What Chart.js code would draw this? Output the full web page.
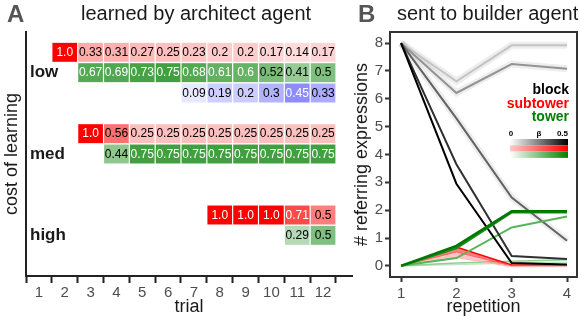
<!DOCTYPE html>
<html>
<head>
<meta charset="utf-8">
<script src="https://cdn.jsdelivr.net/npm/chart.js@4.4.1/dist/chart.umd.min.js"></script>
<style>
  body { margin: 0; background: #fff; }
  #wrap { position: relative; width: 581px; height: 319px; overflow: hidden; }
  canvas { position: absolute; top: 0; }
  #chartA { left: 0; }
  #chartB { left: 340px; }
</style>
</head>
<body>
<div id="wrap">
  <canvas id="chartA" width="360" height="319"></canvas>
  <canvas id="chartB" width="241" height="319"></canvas>
</div>
<script>
//=========== Panel A data ===========//
var trials = [1, 2, 3, 4, 5, 6, 7, 8, 9, 10, 11, 12];
var costLevels = ['high', 'med', 'low'];
// one value per trial, null = nothing learned yet
var lowSubtower  = [null, 1.0, 0.33, 0.31, 0.27, 0.25, 0.23, 0.2, 0.2, 0.17, 0.14, 0.17];
var lowTower     = [null, null, 0.67, 0.69, 0.73, 0.75, 0.68, 0.61, 0.6, 0.52, 0.41, 0.5];
var lowThird     = [null, null, null, null, null, null, 0.09, 0.19, 0.2, 0.3, 0.45, 0.33];
var medSubtower  = [null, null, 1.0, 0.56, 0.25, 0.25, 0.25, 0.25, 0.25, 0.25, 0.25, 0.25];
var medTower     = [null, null, null, 0.44, 0.75, 0.75, 0.75, 0.75, 0.75, 0.75, 0.75, 0.75];
var highSubtower = [null, null, null, null, null, null, null, 1.0, 1.0, 1.0, 0.71, 0.5];
var highTower    = [null, null, null, null, null, null, null, null, null, null, 0.29, 0.5];

//=========== Panel B data ===========//
var repetitions = [1, 2, 3, 4];
var countTicks = [0, 1, 2, 3, 4, 5, 6, 7, 8];
// beta 0 (light) -> 0.5 (dark)
var blockCurves = [
  [8, 6.63, 7.92, 7.92],
  [8, 6.21, 7.25, 7.08],
  [8, 5.3, 2.45, 0.9],
  [8, 3.65, 0.35, 0.25],
  [8, 2.95, 0.1, 0.05]
];
var towerCurves = [
  [0, 0.05, 0.1, 0.13],
  [0, 0.1, 0.17, 0.22],
  [0, 0.28, 1.38, 1.77],
  [0, 0.64, 1.93, 1.93],
  [0, 0.72, 1.96, 1.96]
];
var subtowerCurves = [
  [0, 0.3, -0.03, -0.03],
  [0, 0.5, 0, 0],
  [0, 0.68, 0.03, 0.03]
];

Chart.defaults.font.family = '"Liberation Sans", Arial, Helvetica, sans-serif';
Chart.defaults.color = '#4d4d4d';
Chart.defaults.animation = false;
Chart.defaults.plugins.legend.display = false;
Chart.defaults.plugins.tooltip.enabled = false;

var FONT = '"Liberation Sans", Arial, Helvetica, sans-serif';

// panel letter + title
function panelHeading(letter, title, letterX, titleX) {
  return {
    id: 'heading' + letter,
    afterDraw: function(chart) {
      var ctx = chart.ctx;
      ctx.save();
      ctx.textBaseline = 'alphabetic';
      ctx.textAlign = 'left';
      ctx.fillStyle = '#555';
      ctx.font = 'bold 24px ' + FONT;
      ctx.fillText(letter, letterX, 22);
      ctx.fillStyle = '#1a1a1a';
      ctx.font = '20px ' + FONT;
      ctx.fillText(title, titleX, 20);
      ctx.restore();
    }
  };
}

//=================Panel A=================//
var rowLevel = {lowSubtower: 11, lowTower: 10, lowThird: 9, medSubtower: 7, medTower: 6, highSubtower: 3, highTower: 2};
var costPos = {high: 2, med: 6, low: 10};

function cellRow(values, level, rgb) {
  var cells = [];
  var fills = [];
  values.forEach(function(v, i) {
    if (v === null) return;
    cells.push({x: trials[i], y: [level - 0.45, level + 0.45], v: v});
    fills.push('rgba(' + rgb + ',' + v + ')');
  });
  return {data: cells, backgroundColor: fills, rgb: rgb, grouped: false, barThickness: 24, borderWidth: 0};
}

var RED = '255,0,0', GREEN = '0,128,0', BLUE = '0,0,255';

var cellText = {
  id: 'cellText',
  afterDatasetsDraw: function(chart) {
    var ctx = chart.ctx;
    ctx.save();
    ctx.font = '12px ' + FONT;
    ctx.textAlign = 'center';
    ctx.textBaseline = 'middle';
    chart.data.datasets.forEach(function(ds, d) {
      var meta = chart.getDatasetMeta(d);
      var rgb = ds.rgb.split(',').map(Number);
      meta.data.forEach(function(bar, i) {
        var v = ds.data[i].v;
        var mix = rgb.map(function(c) { return 255 - v * (255 - c); });
        var lum = 0.299 * mix[0] + 0.587 * mix[1] + 0.114 * mix[2];
        ctx.fillStyle = lum < 154 ? '#fff' : '#000';
        ctx.fillText(v === 1 ? '1.0' : String(v), bar.x, (bar.y + bar.base) / 2 + 0.5);
      });
    });
    ctx.restore();
  }
};

var chartA = new Chart(document.getElementById('chartA'), {
  type: 'bar',
  data: {
    datasets: [
      cellRow(lowSubtower, rowLevel.lowSubtower, RED),
      cellRow(lowTower, rowLevel.lowTower, GREEN),
      cellRow(lowThird, rowLevel.lowThird, BLUE),
      cellRow(medSubtower, rowLevel.medSubtower, RED),
      cellRow(medTower, rowLevel.medTower, GREEN),
      cellRow(highSubtower, rowLevel.highSubtower, RED),
      cellRow(highTower, rowLevel.highTower, GREEN)
    ]
  },
  options: {
    responsive: false,
    devicePixelRatio: 1,
    layout: {padding: {top: 32, right: 8, left: 0, bottom: 0}},
    scales: {
      x: {
        type: 'linear', min: 0.5, max: 13.12, offset: false,
        afterBuildTicks: function(s) { s.ticks = trials.map(function(t) { return {value: t}; }); },
        afterFit: function(s) { s.height = 43; },
        grid: {drawOnChartArea: false, drawTicks: true, tickLength: 7, tickWidth: 2, tickColor: '#222'},
        border: {display: true, color: '#222', width: 2},
        ticks: {font: {size: 15}, padding: 1, color: '#4d4d4d', maxRotation: 0, autoSkip: false},
        title: {display: true, text: 'trial', font: {size: 18}, color: '#1a1a1a', padding: {top: 0, bottom: 1}}
      },
      y: {
        type: 'linear', min: 0, max: 12,
        afterBuildTicks: function(s) { s.ticks = costLevels.map(function(c) { return {value: costPos[c]}; }); },
        afterFit: function(s) { s.width = 26; },
        grid: {display: false, drawTicks: false},
        border: {display: true, color: '#222', width: 2},
        ticks: {
          mirror: true, padding: 4, color: '#1a1a1a',
          font: {size: 17, weight: 'bold'},
          callback: function(value) { return costLevels[costLevels.map(function(c) { return costPos[c]; }).indexOf(value)]; }
        },
        title: {display: true, text: 'cost of learning', font: {size: 18}, color: '#1a1a1a', padding: {top: 1, bottom: 0}}
      }
    }
  },
  plugins: [cellText, panelHeading('A', 'learned by architect agent', 7, 81)]
});

//=================Panel B=================//
var blockColors = ['#c4c4c4', '#939393', '#626262', '#303030', '#000000'];
var towerColors = ['#c4e6c4', '#92d092', '#58b558', '#1c8c1c', '#007800'];
var subtowerColors = ['#ffb8b8', '#ff6060', '#ff0000'];
var subtowerFills = [null, 'rgba(255,60,60,0.3)', 'rgba(255,0,0,0.5)'];

function curve(values, color, width) {
  return {
    data: values.map(function(v, i) { return {x: repetitions[i], y: v}; }),
    borderColor: color, borderWidth: width, pointRadius: 0, fill: false, tension: 0
  };
}

var datasetsB = [];
datasetsB.push(curve(towerCurves[4], towerColors[4], 2.5));
datasetsB.push(curve(towerCurves[3], towerColors[3], 2.5));
datasetsB.push(curve(blockCurves[4], blockColors[4], 2));
datasetsB.push(curve(blockCurves[3], blockColors[3], 2));
datasetsB.push(curve(towerCurves[2], towerColors[2], 2));
subtowerCurves.forEach(function(c, k) {
  var d = curve(c, subtowerColors[k], k === 2 ? 1.5 : 1);
  if (k > 0) { d.fill = '-1'; d.backgroundColor = subtowerFills[k]; }
  datasetsB.push(d);
});
datasetsB.push(curve(towerCurves[1], towerColors[1], 1.5));
datasetsB.push(curve(towerCurves[0], towerColors[0], 1.5));
datasetsB.push(curve(blockCurves[2], blockColors[2], 2));
datasetsB.push(curve(blockCurves[1], blockColors[1], 2));
datasetsB.push(curve(blockCurves[0], blockColors[0], 2));
// soft ribbons round the lighter block lines
[0, 1, 2].forEach(function(k) { datasetsB.push(curve(blockCurves[k], 'rgba(0,0,0,0.07)', 7)); });

var frameAndLegend = {
  id: 'frameAndLegend',
  afterDatasetsDraw: function(chart) {
    var ctx = chart.ctx;
    var a = chart.chartArea;
    ctx.save();
    ctx.strokeStyle = '#333';
    ctx.lineWidth = 2;
    ctx.strokeRect(a.left, a.top, a.right - a.left, a.bottom - a.top);

    var right = a.right - 8;
    ctx.textAlign = 'right';
    ctx.textBaseline = 'alphabetic';
    ctx.font = 'bold 14px ' + FONT;
    var names = ['block', 'subtower', 'tower'];
    var colors = ['#000000', '#ff0000', '#008000'];
    names.forEach(function(n, i) {
      ctx.fillStyle = colors[i];
      ctx.fillText(n, right, a.top + 62 + i * 13.5);
    });

    ctx.font = 'bold 8px ' + FONT;
    ctx.fillStyle = '#000';
    var barL = right - 59, barR = right - 1;
    ctx.textAlign = 'center';
    ctx.fillText('0', barL + 1, a.top + 104);
    ctx.fillText('\u03b2', (barL + barR) / 2, a.top + 104);
    ctx.textAlign = 'right';
    ctx.fillText('0.5', barR, a.top + 104);

    var ramps = [['#ffffff', '#000000'], ['#ffc8c8', '#ff0000'], ['#ffffff', '#008000']];
    ramps.forEach(function(r, i) {
      var g = ctx.createLinearGradient(barL, 0, barR, 0);
      g.addColorStop(0, r[0]);
      g.addColorStop(1, r[1]);
      ctx.fillStyle = g;
      ctx.fillRect(barL, a.top + 107 + i * 6.3, barR - barL, 6.3);
    });
    ctx.restore();
  }
};

var chartB = new Chart(document.getElementById('chartB'), {
  type: 'line',
  data: {datasets: datasetsB},
  options: {
    responsive: false,
    devicePixelRatio: 1,
    layout: {padding: {top: 32, right: 4, left: 0, bottom: 0}},
    scales: {
      x: {
        type: 'linear', min: 0.8, max: 4.18,
        afterBuildTicks: function(s) { s.ticks = repetitions.map(function(r) { return {value: r}; }); },
        afterFit: function(s) { s.height = 42; },
        grid: {drawOnChartArea: false, drawTicks: true, tickLength: 5, tickWidth: 2, tickColor: '#333'},
        border: {display: false},
        ticks: {font: {size: 15}, padding: 3, color: '#4d4d4d', maxRotation: 0},
        title: {display: true, text: 'repetition', font: {size: 18}, color: '#1a1a1a', padding: {top: 0, bottom: 1}}
      },
      y: {
        type: 'linear', min: -0.4, max: 8.4,
        afterBuildTicks: function(s) { s.ticks = countTicks.map(function(c) { return {value: c}; }); },
        afterFit: function(s) { s.width = 50; },
        grid: {drawOnChartArea: false, drawTicks: true, tickLength: 5, tickWidth: 2, tickColor: '#333'},
        border: {display: false},
        ticks: {font: {size: 15}, padding: 2, color: '#4d4d4d'},
        title: {display: true, text: '# referring expressions', font: {size: 18}, color: '#1a1a1a', padding: {top: 11, bottom: 0}}
      }
    }
  },
  plugins: [frameAndLegend, panelHeading('B', 'sent to builder agent', 18, 57)]
});
</script>
</body>
</html>
